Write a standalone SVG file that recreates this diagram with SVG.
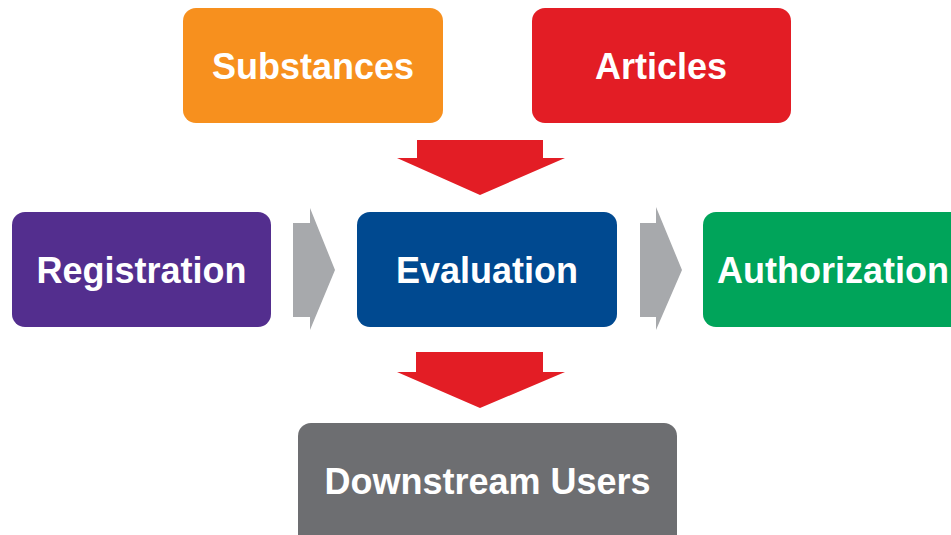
<svg xmlns="http://www.w3.org/2000/svg" width="951" height="535" viewBox="0 0 951 535">
<style>
.lbl{font-family:"Liberation Sans",Arial,sans-serif;font-weight:bold;font-size:36px;fill:#ffffff;text-anchor:middle}
.red{fill:#e31d25}
.gry{fill:#a7a9ac}
</style>
<rect width="951" height="535" fill="#ffffff"/>
<g id="connectors">
<polygon class="red" points="417,140 543,140 543,158 565,158 480,195 397,158 417,158"/>
<polygon class="red" points="416,352 543,352 543,372 565,372 480,408 397,372 416,372"/>
<polygon class="gry" points="293,223 310,223 310,208 335,270 310,330 310,317 293,317"/>
<polygon class="gry" points="640,223 656,223 656,207 682,270 656,330 656,317 640,317"/>
</g>
<g id="substances">
<rect x="183" y="8" width="260" height="115" rx="13" fill="#f7901e"/>
<text class="lbl" x="313" y="79">Substances</text>
</g>
<g id="articles">
<rect x="532" y="8" width="259" height="115" rx="13" fill="#e31d25"/>
<text class="lbl" x="661" y="79">Articles</text>
</g>
<g id="registration">
<rect x="12" y="212" width="259" height="115" rx="13" fill="#532e8e"/>
<text class="lbl" x="141.5" y="283">Registration</text>
</g>
<g id="evaluation">
<rect x="357" y="212" width="260" height="115" rx="13" fill="#004990"/>
<text class="lbl" x="487" y="283">Evaluation</text>
</g>
<g id="authorization">
<rect x="703" y="212" width="260" height="115" rx="13" fill="#00a45a"/>
<text class="lbl" x="833" y="283">Authorization</text>
</g>
<g id="downstream">
<rect x="298" y="423" width="379" height="130" rx="13" fill="#6d6e71"/>
<text class="lbl" x="487.5" y="494">Downstream Users</text>
</g>
</svg>
